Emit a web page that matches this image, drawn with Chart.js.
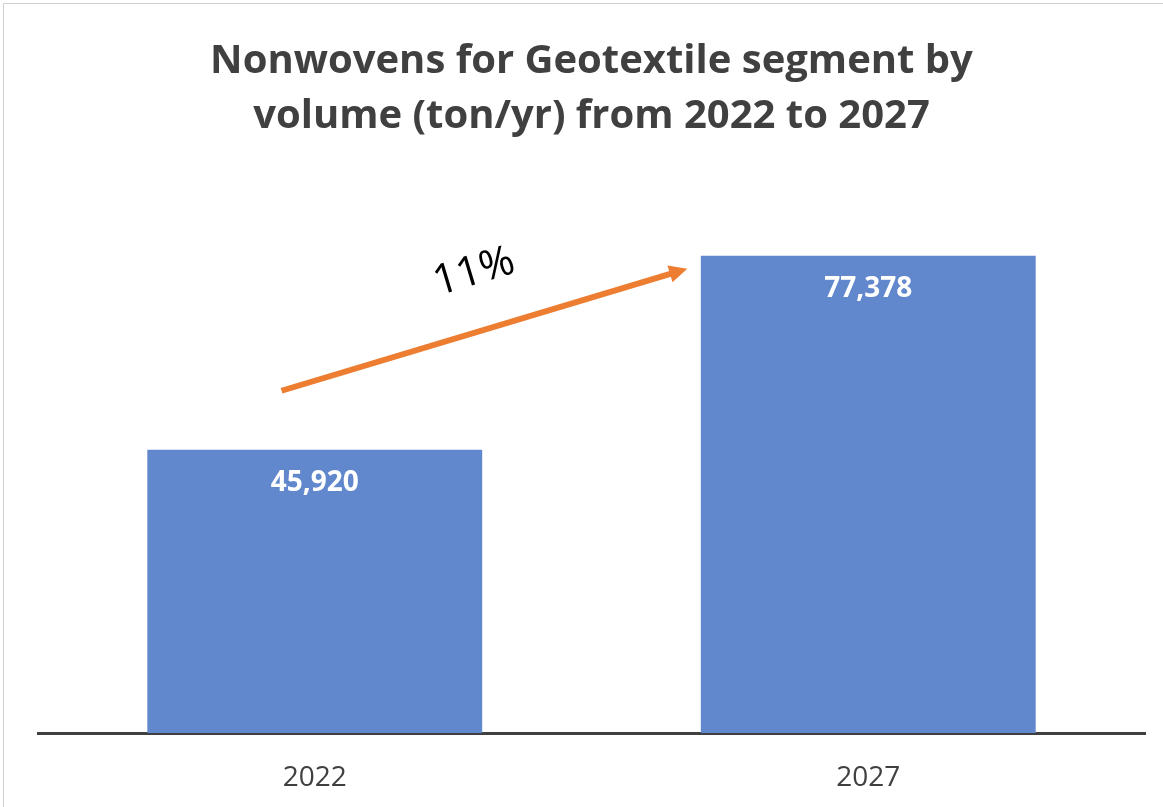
<!DOCTYPE html>
<html>
<head>
<meta charset="utf-8">
<script src="https://cdn.jsdelivr.net/npm/chart.js@4.4.0/dist/chart.umd.min.js"></script>
<style>
    html, body { margin: 0; padding: 0; background: #fff; }
    #wrap {
        position: relative;
        width: 1163px;
        height: 807px;
        box-sizing: border-box;
        border-left: 1px solid #d0d0d0;
        border-top: 1px solid #d0d0d0;
        margin-left: 3px;
        margin-top: 3px;
    }
</style>
</head>
<body>
<div id="wrap"><canvas id="stockChart" width="1159" height="803"></canvas></div>
<script>
const years = ['2022', '2027'];
const volumes = [45920, 77378];
const titleLines = ['Nonwovens for Geotextile segment by', 'volume (ton/yr) from 2022 to 2027'];
const growthLabel = '11%';
// arrow in data units (x = category index, y = volume)
const arrowFrom = [-0.06, 55500];
const arrowTo = [0.673, 75300];
const growthAt = [0.288, 74700];

const textColor = '#404040';
const fontFamily = '"Open Sans", "Noto Sans", sans-serif';

// Draw the value inside the top of each bar
const barLabels = {
    id: 'barLabels',
    afterDatasetsDraw(chart) {
        const ctx = chart.ctx;
        const meta = chart.getDatasetMeta(0);
        ctx.save();
        ctx.fillStyle = '#ffffff';
        ctx.font = 'bold 28px ' + fontFamily;
        ctx.textAlign = 'center';
        ctx.textBaseline = 'middle';
        meta.data.forEach((bar, i) => {
            ctx.fillText(volumes[i].toLocaleString('en-US'), bar.x, bar.y + 33);
        });
        ctx.restore();
    }
};

// Orange growth arrow and its rotated label
const growthArrow = {
    id: 'growthArrow',
    afterDraw(chart) {
        const ctx = chart.ctx;
        const xs = chart.scales.x;
        const ys = chart.scales.y;
        const x1 = xs.getPixelForValue(arrowFrom[0]);
        const y1 = ys.getPixelForValue(arrowFrom[1]);
        const x2 = xs.getPixelForValue(arrowTo[0]);
        const y2 = ys.getPixelForValue(arrowTo[1]);
        const ang = Math.atan2(y2 - y1, x2 - x1);
        const head = 20;

        ctx.save();
        ctx.strokeStyle = '#ED7D31';
        ctx.fillStyle = '#ED7D31';
        ctx.lineWidth = 6;
        ctx.beginPath();
        ctx.moveTo(x1, y1);
        ctx.lineTo(x2 - Math.cos(ang) * head * 0.8, y2 - Math.sin(ang) * head * 0.8);
        ctx.stroke();
        ctx.beginPath();
        ctx.moveTo(x2, y2);
        ctx.lineTo(x2 - head * Math.cos(ang - 0.45), y2 - head * Math.sin(ang - 0.45));
        ctx.lineTo(x2 - head * Math.cos(ang + 0.45), y2 - head * Math.sin(ang + 0.45));
        ctx.closePath();
        ctx.fill();

        const tx = xs.getPixelForValue(growthAt[0]);
        const ty = ys.getPixelForValue(growthAt[1]);
        ctx.translate(tx, ty);
        ctx.rotate(ang);
        ctx.fillStyle = '#000000';
        ctx.font = '42px ' + fontFamily;
        ctx.textAlign = 'center';
        ctx.textBaseline = 'middle';
        ctx.fillText(growthLabel, 0, 0);
        ctx.restore();
    }
};

const ctx = document.getElementById('stockChart').getContext('2d');
const mainChart = new Chart(ctx, {
    type: 'bar',
    data: {
        labels: years,
        datasets: [{
            data: volumes,
            backgroundColor: '#6187CD',
            borderWidth: 0,
            barPercentage: 1,
            categoryPercentage: 0.605
        }]
    },
    options: {
        responsive: false,
        animation: false,
        layout: {
            padding: { left: 34, right: 18, top: 0, bottom: 0 }
        },
        plugins: {
            legend: { display: false },
            tooltip: { enabled: false },
            title: {
                display: true,
                text: titleLines,
                color: textColor,
                font: { family: fontFamily, size: 40, weight: 'bold', lineHeight: 1.375 },
                padding: { top: 30, bottom: 34 }
            }
        },
        scales: {
            x: {
                grid: { display: false, drawTicks: false },
                border: { display: true, color: '#404040', width: 3 },
                ticks: {
                    color: textColor,
                    font: { family: fontFamily, size: 28 },
                    padding: 28
                },
                afterFit(axis) {
                    axis.height = 74;
                }
            },
            y: {
                display: false,
                min: 0,
                max: 90000
            }
        }
    },
    plugins: [barLabels, growthArrow]
});
</script>
</body>
</html>
